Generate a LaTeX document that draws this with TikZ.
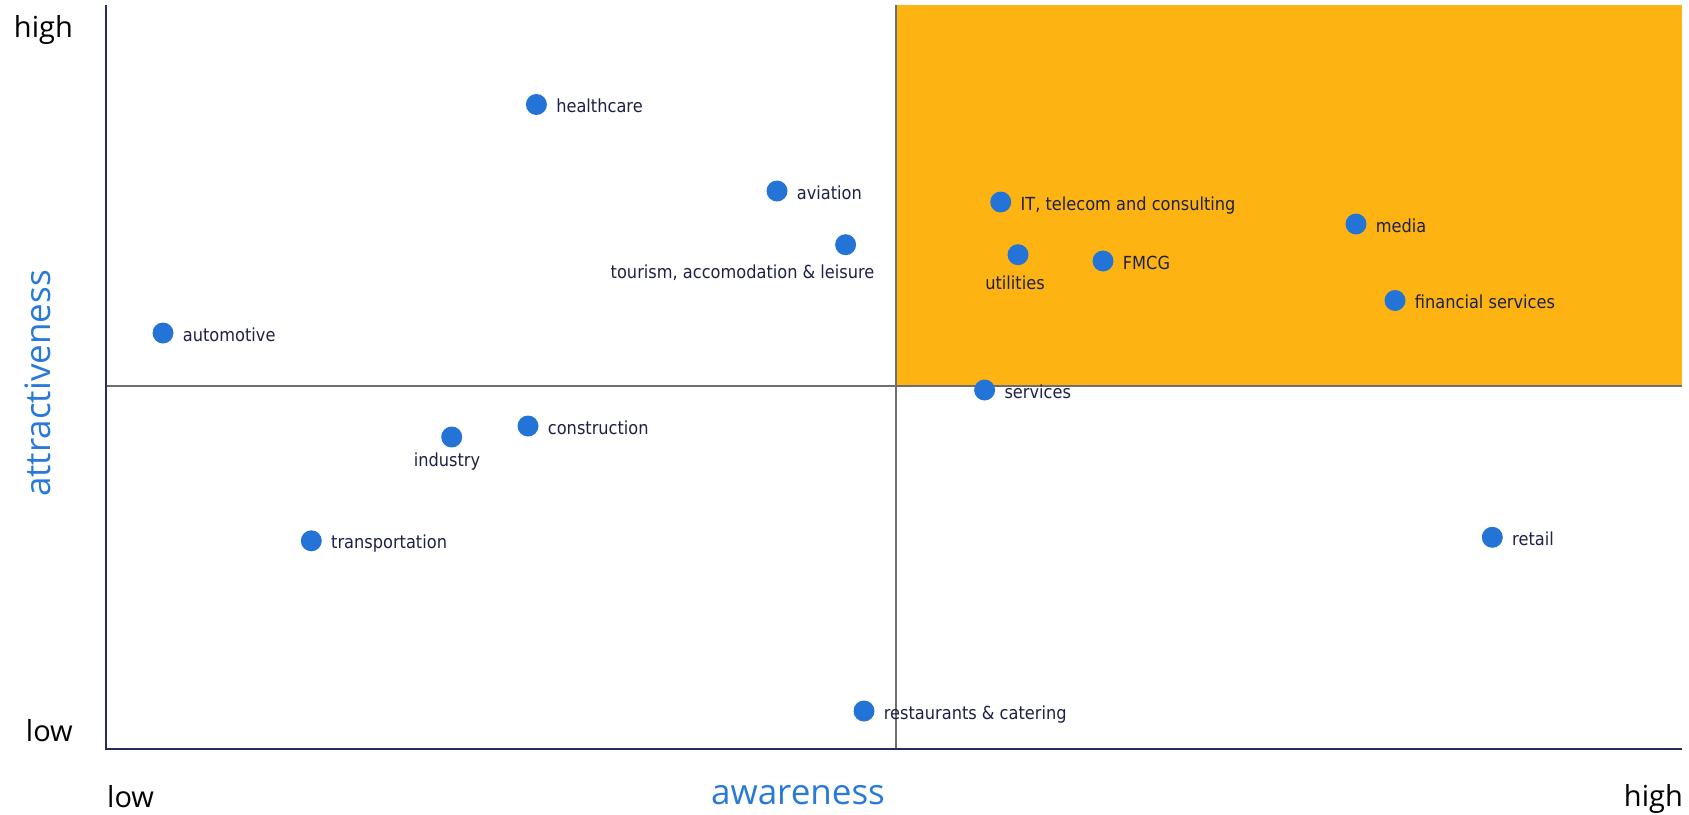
\documentclass[tikz,border=0pt]{standalone}
\usepackage{fontspec}
\usetikzlibrary{positioning}

\newfontfamily\lblfont[FakeStretch=0.9]{DejaVu Sans}
\newfontfamily\axisfont{Open Sans}

\definecolor{quadorange}{RGB}{253,180,19}
\definecolor{dotblue}{RGB}{36,116,216}
\definecolor{ink}{RGB}{30,32,70}
\definecolor{axisnavy}{RGB}{40,44,90}
\definecolor{midgray}{RGB}{110,110,110}
\definecolor{titleblue}{RGB}{40,122,214}

\tikzset{
  dot/.style={circle, fill=dotblue, inner sep=0pt, minimum size=21pt},
  lbl/.style={font=\lblfont\fontsize{18}{18}\selectfont, text=ink, inner sep=0pt, text height=16pt, text depth=0pt},
  ends/.style={font=\axisfont\fontsize{29}{29}\selectfont, inner sep=0pt},
  axistitle/.style={font=\axisfont\fontsize{35}{35}\selectfont, text=titleblue, inner sep=0pt},
  axisline/.style={draw=axisnavy, line width=1.3pt},
  midline/.style={draw=midgray, line width=1.5pt}
}

\begin{document}
\begin{tikzpicture}[x=1pt, y=-1pt, node distance=9pt]

  \useasboundingbox (0,0) rectangle (1689,814);

  % top right quadrant
  \fill[quadorange] (896,5) rectangle (1682,386);
  \draw[midline] (896,5) -- (896,749);
  \draw[midline] (106,386) -- (1682,386);

  % axes
  \draw[axisline] (106,5) -- (106,749) -- (1682,749);

  \node[ends, anchor=base east] (yhigh) at (73,37) {high};
  \node[ends, anchor=base east] (ylow) at (73,741) {low};
  \node[ends, anchor=base west] (xlow) at (107,807) {low};
  \node[ends, anchor=base east] (xhigh) at (1683,806) {high};
  \node[axistitle, anchor=base] (xtitle) at (798,804) {awareness};
  \node[axistitle, anchor=base, rotate=90] (ytitle) at (50.7,383.5) {attractiveness};

  % sectors
  \node[dot] (health) at (536.4,104.5) {};
  \node[lbl, right=of health] {healthcare};
  \node[dot] (avia) at (777,191) {};
  \node[lbl, right=of avia] {aviation};
  \node[dot] (tour) at (845.6,244.7) {};
  \node[lbl, anchor=base east] at ([shift={(29,33.5)}]tour.center) {tourism, accomodation \& leisure};
  \node[dot] (itc) at (1000.7,202) {};
  \node[lbl, right=of itc] {IT, telecom and consulting};
  \node[dot] (util) at (1018,254.7) {};
  \node[lbl, anchor=base] at ([shift={(-3,34.6)}]util.center) {utilities};
  \node[dot] (fmcg) at (1103,261) {};
  \node[lbl, right=of fmcg] {FMCG};
  \node[dot] (media) at (1356,224) {};
  \node[lbl, right=of media] {media};
  \node[dot] (fin) at (1395,300.5) {};
  \node[lbl, right=of fin] {financial services};
  \node[dot] (auto) at (163,333) {};
  \node[lbl, right=of auto] {automotive};
  \node[dot] (serv) at (984.6,390) {};
  \node[lbl, right=of serv] {services};
  \node[dot] (constr) at (528,426) {};
  \node[lbl, right=of constr] {construction};
  \node[dot] (ind) at (451.7,437) {};
  \node[lbl, anchor=base] at ([shift={(-4.7,29)}]ind.center) {industry};
  \node[dot] (trans) at (311.3,540.8) {};
  \node[lbl, right=of trans] {transportation};
  \node[dot] (retail) at (1492.3,537.3) {};
  \node[lbl, right=of retail] {retail};
  \node[dot] (rest) at (864,711) {};
  \node[lbl, right=of rest] {restaurants \& catering};

\end{tikzpicture}
\end{document}
